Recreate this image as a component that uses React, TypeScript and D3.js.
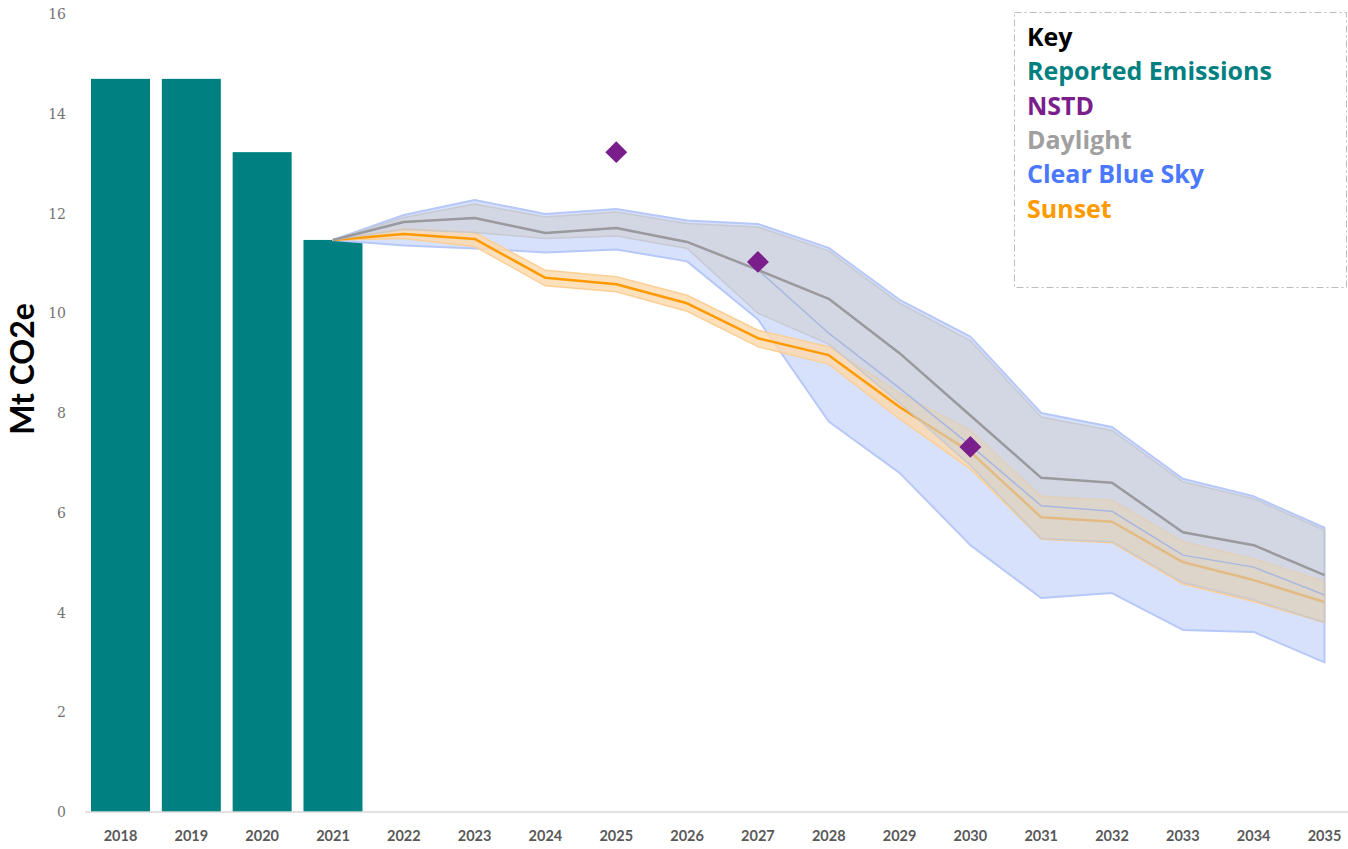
import React from "react";
import * as d3 from "d3";

// ---- data ----
const years = ["2018","2019","2020","2021","2022","2023","2024","2025","2026","2027","2028","2029","2030","2031","2032","2033","2034","2035"];
const yTicks = [0, 2, 4, 6, 8, 10, 12, 14, 16];

const reportedYears = ["2018","2019","2020","2021"];
const reported = [14.7, 14.7, 13.23, 11.47];

const nstdYears = ["2025","2027","2030"];
const nstd = [13.23, 11.03, 7.32];

const scenarioYears = ["2021","2022","2023","2024","2025","2026","2027","2028","2029","2030","2031","2032","2033","2034","2035"];
const daylight   = [11.47, 11.83, 11.91, 11.61, 11.71, 11.43, 10.87, 10.29, 9.2, 7.95, 6.70, 6.60, 5.61, 5.35, 4.75];
const daylightHi = [11.47, 11.92, 12.19, 11.93, 12.03, 11.80, 11.73, 11.25, 10.2, 9.45, 7.92, 7.65, 6.62, 6.28, 5.65];
const daylightLo = [11.47, 11.68, 11.62, 11.50, 11.55, 11.30, 10.00, 9.38, 8.2, 6.95, 5.48, 5.42, 4.60, 4.25, 3.80];

const blueSky   = [11.47, 11.83, 11.91, 11.61, 11.71, 11.43, 10.87, 9.60, 8.50, 7.35, 6.14, 6.03, 5.15, 4.91, 4.35];
const blueSkyHi = [11.47, 11.97, 12.27, 11.99, 12.09, 11.86, 11.79, 11.31, 10.27, 9.53, 8.00, 7.72, 6.68, 6.33, 5.70];
const blueSkyLo = [11.47, 11.36, 11.30, 11.22, 11.28, 11.04, 9.88, 7.83, 6.80, 5.35, 4.29, 4.39, 3.65, 3.61, 3.00];

const sunset   = [11.47, 11.59, 11.49, 10.71, 10.58, 10.20, 9.50, 9.16, 8.12, 7.22, 5.91, 5.82, 5.01, 4.65, 4.21];
const sunsetHi = [11.47, 11.70, 11.62, 10.86, 10.73, 10.36, 9.66, 9.33, 8.40, 7.65, 6.33, 6.25, 5.42, 5.08, 4.62];
const sunsetLo = [11.47, 11.50, 11.34, 10.55, 10.43, 10.04, 9.33, 8.98, 7.88, 6.88, 5.47, 5.40, 4.57, 4.22, 3.80];

const legendLabels = ["Key", "Reported Emissions", "NSTD", "Daylight", "Clear Blue Sky", "Sunset"];
const legendColors = ["#000000", "#008080", "#7a1e8c", "#a0a0a0", "#4a78ff", "#ff9a00"];

// ---- layout ----
const W = 1348, H = 849;

export default function App() {
  const x = d3.scaleBand<string>().domain(years).range([85.1, 1359.9]).paddingInner(0.167).paddingOuter(0.0835);
  const y = d3.scaleLinear().domain([0, 16]).range([812, 14]);
  const cx = (yr: string) => (x(yr) as number) + x.bandwidth() / 2;

  const idx = scenarioYears.map((_, i) => i);
  const band = (hi: number[], lo: number[]) =>
    d3.area<number>().x(i => cx(scenarioYears[i])).y0(i => y(lo[i])).y1(i => y(hi[i]))(idx) || "";
  const line = (v: number[]) =>
    d3.line<number>().x(i => cx(scenarioYears[i])).y(i => y(v[i]))(idx) || "";

  const diamond = d3.symbol().type(d3.symbolSquare).size(240)() || "";

  return (
    <div style={{ position: "absolute", left: 0, top: 0 }}>
      <svg width={W} height={H} style={{ display: "block", background: "#fff" }}>
        {/* y tick labels */}
        {yTicks.map(t => (
          <text key={t} x={66} y={y(t)} dy="0.36em" textAnchor="end"
            fontFamily="'DejaVu Serif', serif" fontSize={14} fill="#737373">{t}</text>
        ))}
        {/* y title */}
        <text transform={`translate(34,${369}) rotate(-90)`} textAnchor="middle"
          fontFamily="Lato, sans-serif" fontWeight={700} fontSize={32} fill="#000">Mt CO2e</text>

        {/* bars */}
        {reportedYears.map((yr, i) => (
          <rect key={yr} x={x(yr)} y={y(reported[i])} width={x.bandwidth()} height={y(0) - y(reported[i])} fill="#008080" />
        ))}

        {/* x axis line */}
        <line x1={85} x2={1360} y1={y(0)} y2={y(0)} stroke="#d9d9d9" strokeWidth={1.5} />
        {years.map(yr => (
          <text key={yr} x={cx(yr)} y={841} textAnchor="middle"
            fontFamily="Lato, sans-serif" fontWeight={700} fontSize={14.5} fill="#595959">{yr}</text>
        ))}

        {/* scenario bands and lines */}
        <path d={band(blueSkyHi, blueSkyLo)} fill="#d7e1fb" stroke="#b7c8f8" strokeWidth={2} strokeLinejoin="round" />
        <path d={band(sunsetHi, sunsetLo)} fill="#fcd9ab" fillOpacity={0.8} stroke="#fbcf95" strokeWidth={1.5} strokeLinejoin="round" />
        <path d={line(blueSky)} fill="none" stroke="#6a8ef5" strokeWidth={1.5} />
        <path d={line(sunset)} fill="none" stroke="#ff9a00" strokeWidth={2.5} strokeLinejoin="round" />
        <path d={band(daylightHi, daylightLo)} fill="#cfd0d4" fillOpacity={0.62} stroke="#c4c6cc" strokeOpacity={0.8} strokeWidth={1.5} strokeLinejoin="round" />
        <path d={line(daylight)} fill="none" stroke="#9a9a9e" strokeWidth={2.5} strokeLinejoin="round" />

        {/* NSTD diamonds */}
        {nstdYears.map((yr, i) => (
          <path key={yr} d={diamond} transform={`translate(${cx(yr)},${y(nstd[i])}) rotate(45)`} fill="#7a1e8c" />
        ))}

        {/* legend */}
        <rect x={1014.5} y={12.5} width={332} height={275} fill="none" stroke="#bdbdbd" strokeWidth={1} strokeDasharray="7,3,2,3" />
        {legendLabels.map((l, i) => (
          <text key={l} x={1027} y={46 + i * 34.3} fontFamily="'Open Sans', sans-serif" fontWeight={700} fontSize={25}
            fill={legendColors[i]}>{l}</text>
        ))}
      </svg>
    </div>
  );
}
